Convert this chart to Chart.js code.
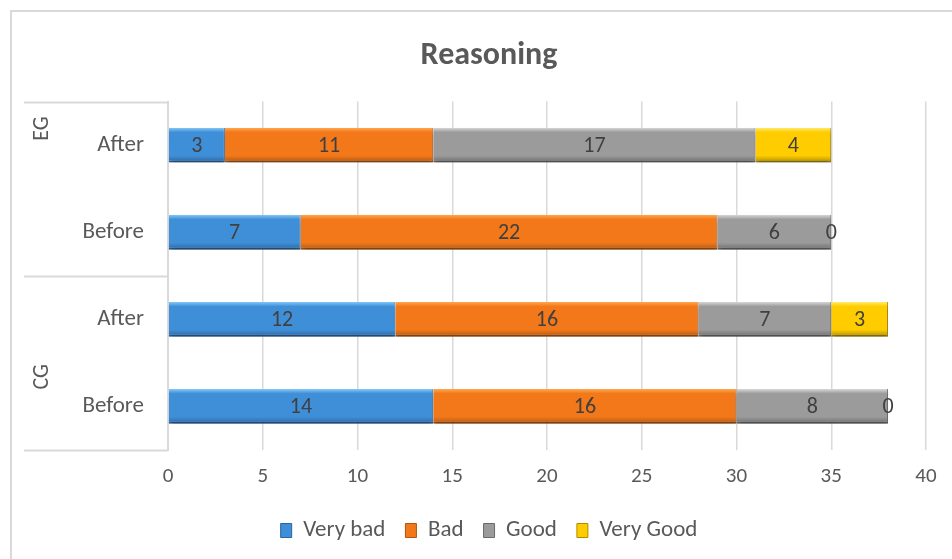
<!DOCTYPE html>
<html>
<head>
<meta charset="utf-8">
<script src="https://cdn.jsdelivr.net/npm/chart.js@4/dist/chart.umd.min.js"></script>
<style>
  html, body { margin: 0; padding: 0; background: #fff; }
  #wrap { width: 952px; height: 559px; position: relative; }
</style>
</head>
<body>
<div id="wrap"><canvas id="myChart" width="952" height="559"></canvas></div>
<script>
// data
var categories = ['After', 'Before', 'After', 'Before'];
var groups = ['EG', 'EG', 'CG', 'CG'];
var veryBad = [3, 7, 12, 14];
var bad = [11, 22, 16, 16];
var good = [17, 6, 7, 8];
var veryGood = [4, 0, 3, 0];
var seriesNames = ['Very bad', 'Bad', 'Good', 'Very Good'];
var xTicks = [0, 5, 10, 15, 20, 25, 30, 35, 40];

var FONT = "Carlito, Lato, 'Noto Sans', sans-serif";
var TXT = '#595959';
var GROUP_LEFT = 24;

// light / base / dark shades for the bevel look
var shades = [
  ['#84c8f5', '#3f8fd8', '#2a64a0'],
  ['#ffa84f', '#f2781a', '#b0560f'],
  ['#d8d8d8', '#9b9b9b', '#6a6a6a'],
  ['#ffec70', '#ffcc00', '#ad8c00']
];

function barFill(i) {
  return function(c) {
    var chart = c.chart;
    if (!chart.chartArea) return shades[i][1];
    var ys = chart.scales.y;
    var yc = ys.getPixelForValue(c.dataIndex);
    var h = ys.height / categories.length * 0.4;
    var g = chart.ctx.createLinearGradient(0, yc - h / 2, 0, yc + h / 2);
    g.addColorStop(0, shades[i][0]);
    g.addColorStop(0.13, shades[i][1]);
    g.addColorStop(0.8, shades[i][1]);
    g.addColorStop(1, shades[i][2]);
    return g;
  };
}

function mkSet(name, vals, i) {
  return {
    label: name,
    data: vals,
    backgroundColor: barFill(i),
    borderColor: shades[i][2],
    borderWidth: {top: 0, left: 0, right: 1, bottom: 2},
    borderSkipped: false,
    categoryPercentage: 1,
    barPercentage: 0.4
  };
}

// shadow under the bars, value labels, group axis and frame
var extras = {
  id: 'extras',
  beforeDatasetsDraw: function(chart) {
    var ctx = chart.ctx;
    ctx.save();
    ctx.shadowColor = 'rgba(0,0,0,0.3)';
    ctx.shadowBlur = 5;
    ctx.shadowOffsetX = 1;
    ctx.shadowOffsetY = 4;
  },
  afterDatasetsDraw: function(chart) {
    var ctx = chart.ctx;
    ctx.restore();

    // value labels in the middle of each segment
    ctx.save();
    ctx.font = '22px ' + FONT;
    ctx.fillStyle = '#404040';
    ctx.textAlign = 'center';
    ctx.textBaseline = 'middle';
    chart.data.datasets.forEach(function(ds, di) {
      chart.getDatasetMeta(di).data.forEach(function(bar, j) {
        var p = bar.getProps(['x', 'y', 'base'], true);
        ctx.fillText(String(ds.data[j]), (p.x + p.base) / 2, p.y + 1);
      });
    });
    ctx.restore();
  },
  afterDraw: function(chart) {
    var ctx = chart.ctx, a = chart.chartArea, ys = chart.scales.y;
    ctx.save();
    // outer frame
    ctx.strokeStyle = '#d9d9d9';
    ctx.lineWidth = 2;
    ctx.beginPath();
    ctx.moveTo(11, chart.height);
    ctx.lineTo(11, 11);
    ctx.lineTo(chart.width, 11);
    ctx.stroke();

    // group separators of the multi level axis
    var mid = (ys.getPixelForValue(1) + ys.getPixelForValue(2)) / 2;
    ctx.lineWidth = 2;
    ctx.beginPath();
    [a.top, mid, a.bottom].forEach(function(y) {
      ctx.moveTo(GROUP_LEFT, Math.round(y) + 0.5);
      ctx.lineTo(a.left, Math.round(y) + 0.5);
    });
    ctx.stroke();

    // group names, rotated
    ctx.font = '22px ' + FONT;
    ctx.fillStyle = TXT;
    ctx.textAlign = 'center';
    ctx.textBaseline = 'middle';
    var pos = [
      [groups[0], a.top + 27],
      [groups[2], (ys.getPixelForValue(2) + ys.getPixelForValue(3)) / 2 + 14]
    ];
    pos.forEach(function(p) {
      ctx.save();
      ctx.translate(GROUP_LEFT + 18, p[1]);
      ctx.rotate(-Math.PI / 2);
      ctx.fillText(p[0], 0, 0);
      ctx.restore();
    });
    ctx.restore();
  }
};

var ctx = document.getElementById('myChart').getContext('2d');
var chart = new Chart(ctx, {
  type: 'bar',
  data: {
    labels: categories,
    datasets: [
      mkSet(seriesNames[0], veryBad, 0),
      mkSet(seriesNames[1], bad, 1),
      mkSet(seriesNames[2], good, 2),
      mkSet(seriesNames[3], veryGood, 3)
    ]
  },
  plugins: [extras],
  options: {
    indexAxis: 'y',
    responsive: false,
    animation: false,
    layout: { padding: { left: 52, right: 26, top: 20, bottom: 7 } },
    scales: {
      x: {
        stacked: true,
        min: 0,
        max: 40,
        afterBuildTicks: function(s) { s.ticks = xTicks.map(function(v) { return {value: v}; }); },
        grid: { color: '#d9d9d9', lineWidth: 1.5, drawTicks: false },
        border: { display: false },
        ticks: { color: TXT, font: { family: FONT, size: 21 }, padding: 14 },
        afterFit: function(s) { s.height = 49; }
      },
      y: {
        stacked: true,
        grid: { display: false },
        border: { display: true, color: '#d9d9d9', width: 2 },
        ticks: { color: TXT, font: { family: FONT, size: 23 }, padding: 16 },
        afterFit: function(s) { s.width = 116; }
      }
    },
    plugins: {
      title: {
        display: true,
        text: 'Reasoning',
        color: TXT,
        font: { family: FONT, size: 32, weight: 'bold' },
        padding: { top: 17, bottom: 26.2 }
      },
      legend: {
        position: 'bottom',
        labels: {
          color: TXT,
          font: { family: FONT, size: 23 },
          boxWidth: 11,
          boxHeight: 14,
          padding: 20,
          generateLabels: function(ch) {
            return ch.data.datasets.map(function(ds, i) {
              return {
                text: ds.label,
                fillStyle: shades[i][1],
                strokeStyle: shades[i][2],
                lineWidth: 1,
                fontColor: TXT,
                datasetIndex: i
              };
            });
          }
        }
      },
      tooltip: { enabled: false }
    }
  }
});
</script>
</body>
</html>
